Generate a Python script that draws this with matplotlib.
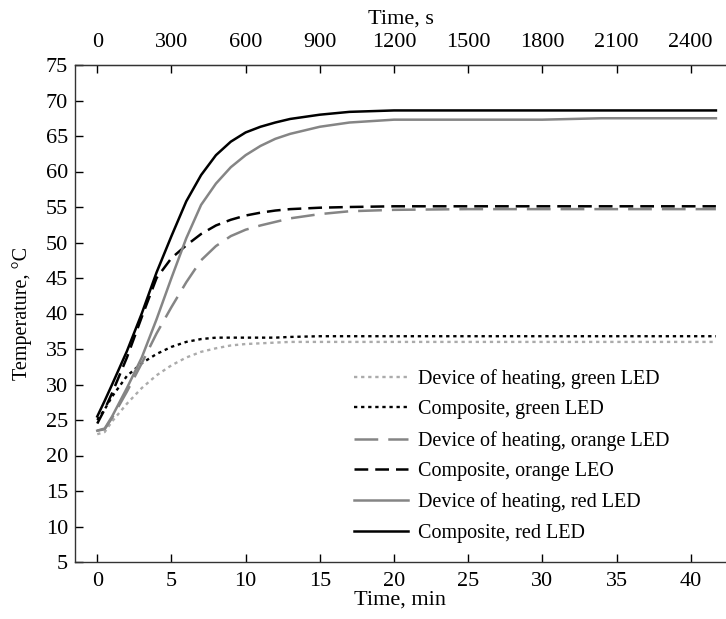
"""Temperature rise of composites and the heating device under LED illumination."""

import numpy as np
import matplotlib
matplotlib.use('Agg')
import matplotlib.pyplot as plt


TIME_MIN = [0, 0.5, 1, 2, 3, 4, 5, 6, 7, 8, 9, 10, 11, 12, 13, 15, 17, 20, 25, 30, 34, 41.7]

DEVICE_GREEN = [23.0, 23.3, 24.8, 27.3, 29.5, 31.3, 32.7, 33.8, 34.6, 35.1, 35.5, 35.7,
                35.8, 35.9, 36.0, 36.0, 36.0, 36.0, 36.0, 36.0, 36.0, 36.0]
COMPOSITE_GREEN = [25.0, 26.5, 28.3, 31.2, 33.0, 34.3, 35.3, 36.0, 36.4, 36.6, 36.6, 36.6,
                   36.6, 36.6, 36.7, 36.8, 36.8, 36.8, 36.8, 36.8, 36.8, 36.8]
DEVICE_ORANGE = [23.5, 23.7, 25.3, 29.0, 33.0, 37.2, 40.9, 44.4, 47.5, 49.5, 50.9, 51.8,
                 52.4, 52.9, 53.4, 54.0, 54.4, 54.6, 54.7, 54.7, 54.7, 54.7]
COMPOSITE_ORANGE = [24.5, 26.5, 28.8, 33.8, 39.5, 45.0, 47.8, 49.6, 51.2, 52.4, 53.2, 53.8,
                    54.2, 54.5, 54.7, 54.9, 55.0, 55.1, 55.1, 55.1, 55.1, 55.1]
DEVICE_RED = [23.5, 23.8, 25.5, 29.5, 33.8, 39.2, 45.0, 50.6, 55.3, 58.3, 60.6, 62.3,
              63.6, 64.6, 65.3, 66.3, 66.9, 67.3, 67.3, 67.3, 67.5, 67.5]
COMPOSITE_RED = [25.5, 27.7, 30.0, 34.7, 40.0, 45.8, 50.9, 55.8, 59.5, 62.3, 64.2, 65.5,
                 66.3, 66.9, 67.4, 68.0, 68.4, 68.6, 68.6, 68.6, 68.6, 68.6]

LABELS = [
    'Device of heating, green LED',
    'Composite, green LED',
    'Device of heating, orange LED',
    'Composite, orange LEO',
    'Device of heating, red LED',
    'Composite, red LED',
]

Y_TICKS = list(range(5, 80, 5))
X_TICKS = list(range(0, 45, 5))
SEC_TICKS = list(range(0, 2700, 300))

GRAY = '#858585'
LIGHT_GRAY = '#ababab'

plt.rcParams['font.family'] = ['Liberation Serif', 'DejaVu Serif']
plt.rcParams['font.size'] = 16

fig = plt.figure(figsize = (7.26, 6.19), dpi = 100)
ax = fig.add_axes([75 / 726, 1 - 562 / 619, 651 / 726, (562 - 65) / 619])

styles = [
    dict(color = LIGHT_GRAY, lw = 1.7, dashes = (1.4, 1.6)),
    dict(color = 'black', lw = 1.7, dashes = (1.4, 1.6)),
    dict(color = GRAY, lw = 1.8, dashes = (9.5, 4.0)),
    dict(color = 'black', lw = 1.8, dashes = (5.5, 2.8)),
    dict(color = GRAY, lw = 1.8, linestyle = '-'),
    dict(color = 'black', lw = 1.8, linestyle = '-'),
]
series = [DEVICE_GREEN, COMPOSITE_GREEN, DEVICE_ORANGE, COMPOSITE_ORANGE, DEVICE_RED, COMPOSITE_RED]

for values, label, style in zip(series, LABELS, styles):
    ax.plot(TIME_MIN, values, label = label, **style)

ax.set_xlim(-1.5, 42.38)
ax.set_ylim(5, 75)
ax.set_xticks(X_TICKS)
ax.set_yticks(Y_TICKS)
ax.tick_params(direction = 'in', length = 6, width = 1)
ax.tick_params(axis = 'x', pad = 7)
ax.tick_params(axis = 'y', pad = 5)
ax.spines['right'].set_visible(False)
for side in ('left', 'bottom', 'top'):
    ax.spines[side].set_linewidth(1.0)
    ax.spines[side].set_color('#333333')

ax.set_xlabel('Time, min', labelpad = 0)
ax.set_ylabel('Temperature, °C', labelpad = 10, fontsize = 14.5)

top = ax.secondary_xaxis('top', functions = (lambda m: m * 60, lambda s: s / 60))
top.set_xticks(SEC_TICKS)
top.tick_params(direction = 'in', length = 6, width = 1, pad = 9)
top.set_xlabel('Time, s', labelpad = 7)

ax.legend(
    loc = 'lower left', bbox_to_anchor = ((354 - 75) / 651, 0.039),
    frameon = False, fontsize = 14.5, handlelength = 2.7, handletextpad = 0.5,
    labelspacing = 0.56, borderaxespad = 0, borderpad = 0,
)

fig.savefig('out.png', dpi = 100)
